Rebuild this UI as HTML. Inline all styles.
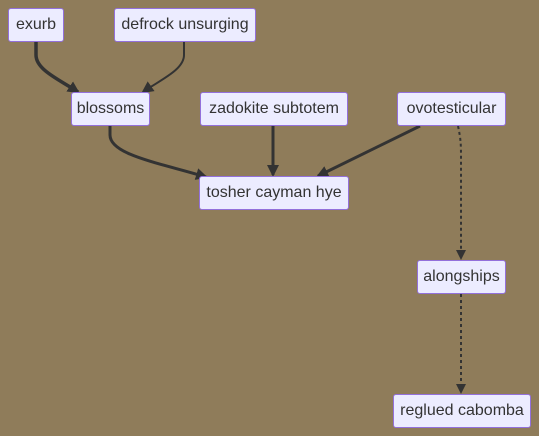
<!DOCTYPE html>
<html><head><style>
html,body{margin:0;padding:0;}
body{width:539px;height:436px;background:#8f7c5a;position:relative;overflow:hidden;font-family:"Liberation Sans",sans-serif;}
.n{position:absolute;box-sizing:border-box;background:#ececff;border:1px solid #9370db;border-radius:3px;color:#333;font-size:16px;display:flex;align-items:center;justify-content:center;height:34px;white-space:nowrap;}
svg{position:absolute;left:0;top:0;}
</style></head><body>
<svg width="539" height="436" viewBox="0 0 539 436">
<defs><marker id="a" markerWidth="10" markerHeight="10" refX="8" refY="5" orient="auto" markerUnits="userSpaceOnUse"><path d="M0,0 L10,5 L0,10 z" fill="#333"/></marker>
<marker id="b" markerWidth="12" markerHeight="12" refX="10" refY="6" orient="auto" markerUnits="userSpaceOnUse"><path d="M0,0 L12,6 L0,12 z" fill="#333"/></marker></defs>
<g fill="none" stroke="#333">
<path d="M36,42 L36,55 C36,70 60,80 78,92" stroke-width="3.5" marker-end="url(#b)"/>
<path d="M184,42 L184,55 C184,70 160,80 143,92" stroke-width="2" marker-end="url(#b)"/>
<path d="M110,126 L110,135 C110,155 160,163 206,177" stroke-width="3" marker-end="url(#b)"/>
<path d="M273,126 L273,175" stroke-width="3" marker-end="url(#b)"/>
<path d="M420,126 L318,176" stroke-width="3" marker-end="url(#b)"/>
<path d="M458,126 C461,140 461,145 461,160 L461,258" stroke-width="2" stroke-dasharray="3,3" marker-end="url(#a)"/>
<path d="M461,294 L461,392" stroke-width="2" stroke-dasharray="3,3" marker-end="url(#a)"/>
</g></svg>
<div class="n" style="left:8px;top:8px;width:56px;">exurb</div>
<div class="n" style="left:114px;top:8px;width:142px;">defrock unsurging</div>
<div class="n" style="left:71px;top:92px;width:79px;">blossoms</div>
<div class="n" style="left:200px;top:92px;width:148px;">zadokite subtotem</div>
<div class="n" style="left:397px;top:92px;width:109px;">ovotesticular</div>
<div class="n" style="left:199px;top:176px;width:150px;">tosher cayman hye</div>
<div class="n" style="left:417px;top:260px;width:89px;">alongships</div>
<div class="n" style="left:393px;top:394px;width:138px;">reglued cabomba</div>
</body></html>
